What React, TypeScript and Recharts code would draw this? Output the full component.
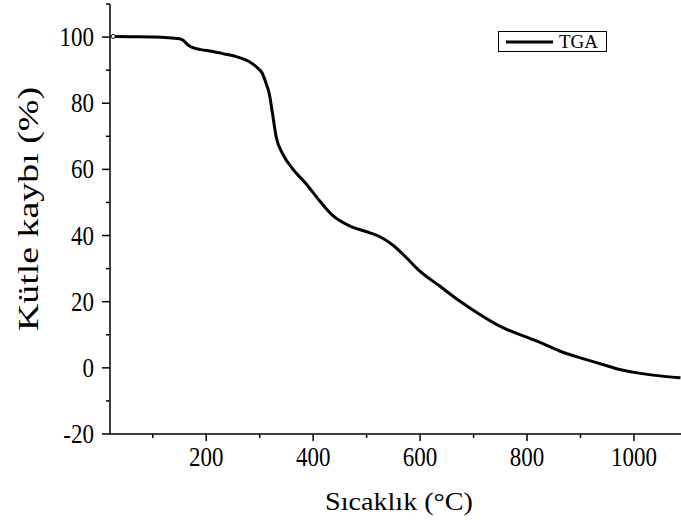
import { LineChart, Line, XAxis, YAxis, Legend } from 'recharts';

const FONT = '"Liberation Serif", "Times New Roman", serif';

// TGA curve
const temperature = [
  26, 60, 100, 150, 158, 166, 175, 190, 210, 231, 262, 280, 295, 305, 313, 318,
  324, 331, 343, 362, 387, 412, 437, 468, 505, 530, 550, 575, 599, 636, 674,
  711, 749, 805, 823, 861, 911, 942, 973, 998, 1035, 1087,
];
const massLoss = [
  100.2, 100.1, 100, 99.5, 98.9, 97.6, 96.8, 96.2, 95.7, 95, 93.8, 92.6, 90.8,
  89, 85.5, 82.8, 76.8, 69.7, 64.7, 60.1, 55.6, 50.5, 46, 42.9, 40.9, 39.2, 37,
  33.2, 29.3, 24.8, 20.2, 16.2, 12.6, 8.9, 7.8, 5.1, 2.5, 1.0, -0.5, -1.3, -2.2,
  -3.0,
];

const xMajor = [200, 400, 600, 800, 1000];
const xTicks = [100, 200, 300, 400, 500, 600, 700, 800, 900, 1000];
const yMajor = [-20, 0, 20, 40, 60, 80, 100];
const yTicks = [-20, -10, 0, 10, 20, 30, 40, 50, 60, 70, 80, 90, 100, 110];

const rows = temperature.map((t, i) => ({ t, mass: massLoss[i] }));

// the source figure is a little stretched vertically, so the labels are too
const STRETCH = 1.15;

function XTick({ x, y, payload }: any) {
  const major = xMajor.includes(payload.value);
  return (
    <g>
      <line x1={x} x2={x} y1={y} y2={y + (major ? 7 : 4)} stroke="#000" strokeWidth={1.5} />
      {major && (
        <text
          transform={`translate(${x}, ${y + 32}) scale(1, ${STRETCH})`}
          textAnchor="middle"
          fontSize={23}
          fontFamily={FONT}
          fill="#000"
        >
          {payload.value}
        </text>
      )}
    </g>
  );
}

function YTick({ x, y, payload }: any) {
  const major = yMajor.includes(payload.value);
  return (
    <g>
      <line x1={x} x2={x - (major ? 8 : 4)} y1={y} y2={y} stroke="#000" strokeWidth={1.5} />
      {major && (
        <text
          transform={`translate(${x - 16}, ${y + 9}) scale(1, ${STRETCH})`}
          textAnchor="end"
          fontSize={23}
          fontFamily={FONT}
          fill="#000"
        >
          {payload.value}
        </text>
      )}
    </g>
  );
}

function startDot({ cx, cy, index }: any) {
  if (index !== 0) return <g key={index} />;
  return <circle key={index} cx={cx} cy={cy} r={2} fill="#fff" stroke="#000" strokeWidth={1} />;
}

function renderLegend() {
  return (
    <div
      style={{
        border: '1px solid #000',
        display: 'flex',
        alignItems: 'center',
        padding: '0 8px 0 7px',
        height: 19,
        fontFamily: FONT,
        fontSize: 19,
        color: '#000',
      }}
    >
      <svg width={47} height={6}>
        <line x1={0} x2={47} y1={3} y2={3} stroke="#000" strokeWidth={3} />
      </svg>
      <span style={{ marginLeft: 6, lineHeight: '19px' }}>TGA</span>
    </div>
  );
}

export default function App() {
  return (
    <div style={{ position: 'absolute', left: 0, top: 0, width: 681, height: 522, background: '#fff' }}>
      <LineChart width={681} height={522} data={rows} margin={{ top: 4, right: 0, left: 0, bottom: 0 }}>
        <XAxis
          dataKey="t"
          type="number"
          domain={[20, 1088]}
          ticks={xTicks}
          interval={0}
          height={88}
          tickSize={0}
          tickMargin={0}
          tickLine={false}
          tick={<XTick />}
          axisLine={{ stroke: '#000', strokeWidth: 1.5 }}
          label={{
            content: ({ viewBox }: any) => (
              <text
                x={399}
                y={viewBox.y + 76}
                textAnchor="middle"
                fontSize={26}
                textLength={148}
                lengthAdjust="spacingAndGlyphs"
                fontFamily={FONT}
                fill="#000"
              >
                Sıcaklık (°C)
              </text>
            ),
          }}
        />
        <YAxis
          type="number"
          domain={[-20, 110]}
          ticks={yTicks}
          interval={0}
          width={110}
          tickSize={0}
          tickMargin={0}
          tickLine={false}
          tick={<YTick />}
          axisLine={{ stroke: '#000', strokeWidth: 1.5 }}
          label={{
            content: () => {
              const cx = 38;
              const cy = 209;
              return (
                <text
                  x={cx}
                  y={cy}
                  transform={`rotate(-90, ${cx}, ${cy})`}
                  textAnchor="middle"
                  fontSize={30}
                  textLength={244}
                  lengthAdjust="spacingAndGlyphs"
                  fontFamily={FONT}
                  fill="#000"
                >
                  Kütle kaybı (%)
                </text>
              );
            },
          }}
        />
        <Legend
          layout="vertical"
          verticalAlign="middle"
          align="center"
          content={renderLegend}
          wrapperStyle={{ position: 'absolute', left: 498, top: 31, width: 'auto', height: 'auto' }}
        />
        <Line
          type="monotone"
          dataKey="mass"
          name="TGA"
          stroke="#000"
          strokeWidth={3}
          dot={startDot}
          activeDot={false}
          isAnimationActive={false}
        />
      </LineChart>
    </div>
  );
}
